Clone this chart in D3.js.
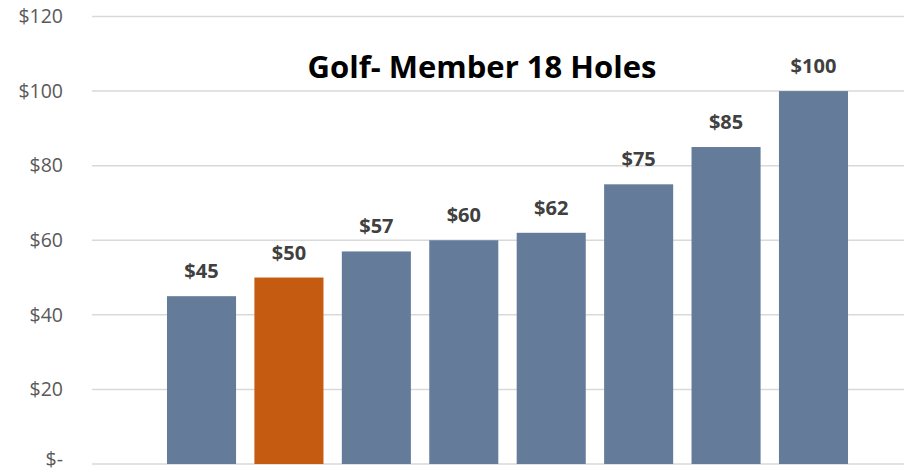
<!DOCTYPE html>
<html>
<head>
<meta charset="utf-8">
<script src="https://cdn.jsdelivr.net/npm/d3@7"></script>
<style>
  html, body { margin: 0; padding: 0; background: #fff; }
  svg { display: block; }
  text { font-family: "Open Sans", "Liberation Sans", sans-serif; }
</style>
</head>
<body>
<svg id="chart" width="904" height="474"></svg>
<script>
// Prices for an 18-hole member round
const categories = ["A", "B", "C", "D", "E", "F", "G", "H"];
const prices = [45, 50, 57, 60, 62, 75, 85, 100];
const highlighted = ["B"];
const yTicks = [0, 20, 40, 60, 80, 100, 120];
const title = "Golf- Member 18 Holes";

const svg = d3.select("#chart");

const y = d3.scaleLinear().domain([0, 120]).range([464, 16.5]);
const x = d3.scaleBand().domain(categories).range([157.8, 857.2]).paddingInner(0.21).paddingOuter(0.105);

const fmt = v => v === 0 ? "$-" : "$" + v;

// horizontal gridlines
svg.append("g")
  .selectAll("line")
  .data(yTicks)
  .join("line")
  .attr("x1", 92).attr("x2", 904)
  .attr("y1", d => y(d)).attr("y2", d => y(d))
  .attr("stroke", "#d9d9d9").attr("stroke-width", 1.5);

// y axis labels
const yAxis = d3.axisLeft(y).tickValues(yTicks).tickFormat(fmt).tickSize(0).tickPadding(0);
const gy = svg.append("g").attr("transform", "translate(63,0)").call(yAxis);
gy.select(".domain").remove();
gy.selectAll("text")
  .attr("fill", "#595959")
  .style("font-size", "19.5px")
  .style("font-family", "'Open Sans', 'Liberation Sans', sans-serif");
// keep the zero label inside the bottom edge
gy.selectAll(".tick").filter(d => d === 0).select("text").attr("dy", "0.1em");

// bars
svg.append("g")
  .selectAll("rect")
  .data(categories)
  .join("rect")
  .attr("x", d => x(d))
  .attr("width", x.bandwidth())
  .attr("y", (d, i) => y(prices[i]))
  .attr("height", (d, i) => y(0) - y(prices[i]))
  .attr("fill", d => highlighted.includes(d) ? "#c55a11" : "#647c9a");

// value labels
svg.append("g")
  .selectAll("text")
  .data(categories)
  .join("text")
  .attr("x", d => x(d) + x.bandwidth() / 2)
  .attr("y", (d, i) => y(prices[i]) - 18)
  .attr("text-anchor", "middle")
  .attr("fill", "#404040")
  .style("font-size", "20px")
  .style("font-weight", "bold")
  .text((d, i) => "$" + prices[i]);

// title
svg.append("text")
  .attr("x", 482)
  .attr("y", 78)
  .attr("text-anchor", "middle")
  .attr("fill", "#000")
  .style("font-size", "31px")
  .style("font-weight", "bold")
  .text(title);
</script>
</body>
</html>
